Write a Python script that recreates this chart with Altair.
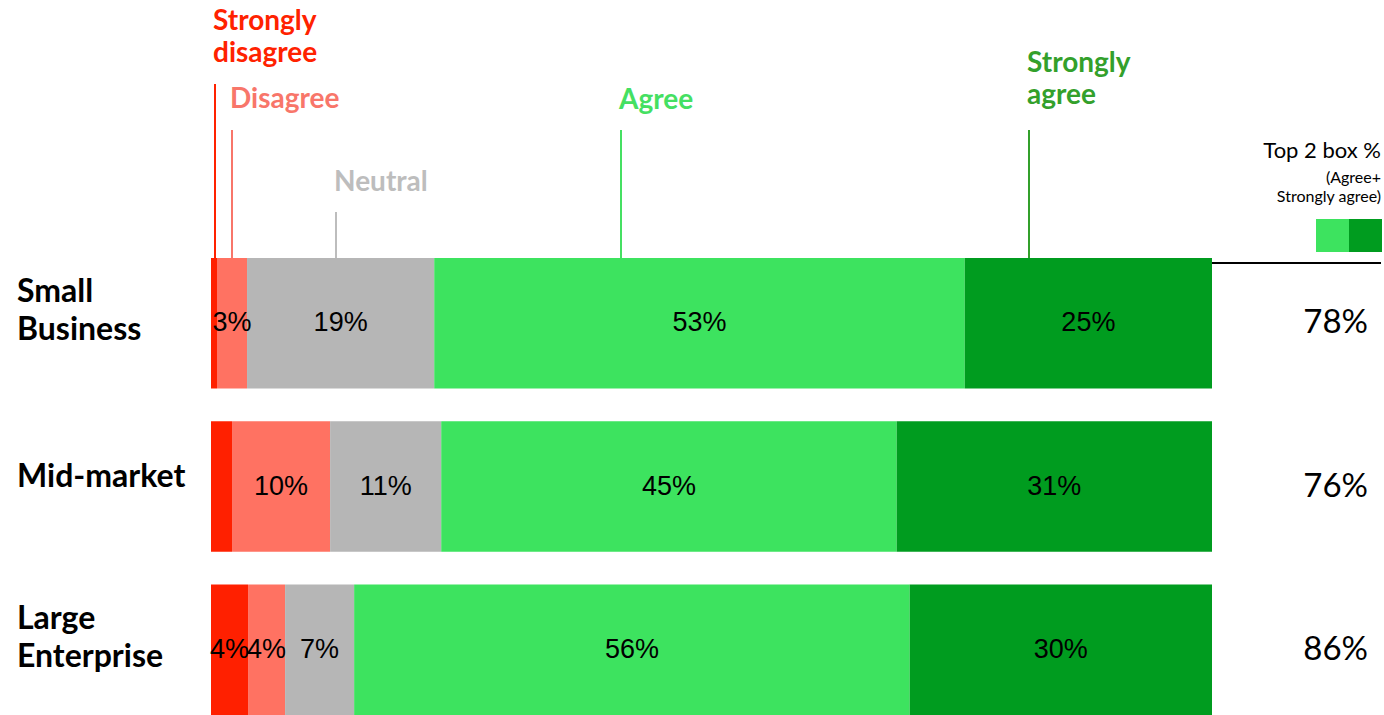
import altair as alt
import pandas as pd

# ---- data ----
ROWS = ["Small Business", "Mid-market", "Large Enterprise"]
CATS = ["Strongly disagree", "Disagree", "Neutral", "Agree", "Strongly agree"]
SMALL = [0.6, 3.0, 18.7, 53.0, 24.7]
MID = [2.1, 9.8, 11.1, 45.5, 31.5]
LARGE = [3.7, 3.7, 6.9, 55.5, 30.2]
SMALL_LBL = ["", "3%", "19%", "53%", "25%"]
MID_LBL = ["", "10%", "11%", "45%", "31%"]
LARGE_LBL = ["4%", "4%", "7%", "56%", "30%"]
TOP2 = ["78%", "76%", "86%"]

BAR_COLORS = ["#FF2000", "#FF7262", "#B6B6B6", "#3DE35F", "#009C1F"]

recs = []
for row, vals, lbls in zip(ROWS, [SMALL, MID, LARGE], [SMALL_LBL, MID_LBL, LARGE_LBL]):
    start = 0.0
    for i, (c, v, l) in enumerate(zip(CATS, vals, lbls)):
        recs.append({"row": row, "cat": c, "order": i, "start": start,
                     "end": start + v, "mid": start + v / 2, "label": l})
        start += v
df = pd.DataFrame(recs)
rows_df = pd.DataFrame({"row": ROWS, "top2": TOP2})

ysc = alt.Scale(domain=ROWS, paddingInner=0.2, paddingOuter=0)
xsc = alt.Scale(domain=[0, 100], nice=False, zero=False)

HEAD = "Lato"
BODY = "Liberation Sans"

bars = alt.Chart(df).mark_bar().encode(
    y=alt.Y("row:N", scale=ysc, axis=None),
    x=alt.X("start:Q", scale=xsc, axis=None),
    x2="end:Q",
    color=alt.Color("cat:N", scale=alt.Scale(domain=CATS, range=BAR_COLORS), legend=None),
)

seg_text = alt.Chart(df).mark_text(font=BODY, fontSize=27, color="#000000",
                                   baseline="middle", align="center").encode(
    y=alt.Y("row:N", scale=ysc, axis=None),
    x=alt.X("mid:Q", scale=xsc, axis=None),
    text="label:N",
)

def row_label_layer(multi):
    flt = "indexof(datum.row, ' ') >= 0" if multi else "indexof(datum.row, ' ') < 0"
    return alt.Chart(rows_df).transform_filter(flt).mark_text(
        font=HEAD, fontSize=32, fontWeight="bold", color="#000000",
        align="left", baseline="middle", lineBreak=" ",
        lineHeight=38, dy=(-31 if multi else -10)).encode(
        y=alt.Y("row:N", scale=ysc, axis=None),
        x=alt.value(-194),
        text="row:N",
    )

top2_text = alt.Chart(rows_df).mark_text(font=HEAD, fontSize=33, color="#000000",
                                         align="right", baseline="middle").encode(
    y=alt.Y("row:N", scale=ysc, axis=None),
    x=alt.value(1157),
    text="top2:N",
)

one = pd.DataFrame({"k": [0]})

# annotation layout: (category, text color, line x px, line top px, text top px)
ANN = [
    ("Strongly disagree", "#FF2200", 4, -174, -250),
    ("Disagree", "#F8766A", 21, -128, -172),
    ("Neutral", "#BDBDBD", 125, -46, -89),
    ("Agree", "#45E062", 410, -128, -171),
    ("Strongly agree", "#33A02B", 818, -128, -208),
]
layers = [bars, seg_text, row_label_layer(True), row_label_layer(False), top2_text]
for name, col, lx, ly, ty in ANN:
    layers.append(alt.Chart(one).mark_rule(color=col, strokeWidth=2).encode(
        x=alt.value(lx), y=alt.value(ly), y2=alt.value(0)))
    layers.append(alt.Chart(one).mark_text(font=HEAD, fontSize=28, fontWeight="bold", color=col,
                                           align="left", baseline="top", lineBreak=" ",
                                           lineHeight=32).encode(
        x=alt.value(lx - 2), y=alt.value(ty), text=alt.value(name)))

# Top 2 box legend
layers.append(alt.Chart(one).mark_text(font=HEAD, fontSize=22, color="#000000",
                                       align="right", baseline="middle").encode(
    x=alt.value(1170), y=alt.value(-107), text=alt.value("Top 2 box %")))
layers.append(alt.Chart(one).mark_text(font=HEAD, fontSize=16, color="#000000",
                                       align="right", baseline="middle", lineBreak="|",
                                       lineHeight=19).encode(
    x=alt.value(1170), y=alt.value(-80), text=alt.value("(Agree+|Strongly agree)")))
layers.append(alt.Chart(one).mark_rect(color=BAR_COLORS[3]).encode(
    x=alt.value(1105), x2=alt.value(1138), y=alt.value(-39), y2=alt.value(-6)))
layers.append(alt.Chart(one).mark_rect(color=BAR_COLORS[4]).encode(
    x=alt.value(1138), x2=alt.value(1171), y=alt.value(-39), y2=alt.value(-6)))
layers.append(alt.Chart(one).mark_rule(color="#000000", strokeWidth=2).encode(
    x=alt.value(1001), x2=alt.value(1170), y=alt.value(5)))

chart = alt.layer(*layers).properties(
    width=1001, height=457,
    autosize=alt.AutoSizeParams(type="none"),
    padding={"left": 211, "top": 258, "right": 172, "bottom": 0},
).configure_view(stroke=None).resolve_scale(y="shared", x="shared")

chart.save("out.html", embed_options={"renderer": "svg", "actions": False})
